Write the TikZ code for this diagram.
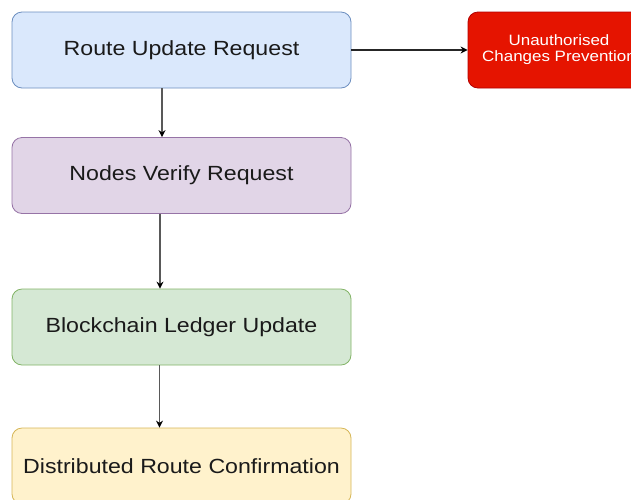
\documentclass[tikz,border=0pt]{standalone}
\usepackage{fontspec}
\setmainfont{Liberation Sans}
\usetikzlibrary{arrows.meta}

\definecolor{blueFill}{HTML}{DAE8FC}\definecolor{blueLine}{HTML}{6C8EBF}
\definecolor{purpleFill}{HTML}{E1D5E7}\definecolor{purpleLine}{HTML}{9673A6}
\definecolor{greenFill}{HTML}{D5E8D4}\definecolor{greenLine}{HTML}{82B366}
\definecolor{yellowFill}{HTML}{FFF2CC}\definecolor{yellowLine}{HTML}{D6B656}
\definecolor{redFill}{HTML}{E51400}\definecolor{redLine}{HTML}{B20000}
\definecolor{inkText}{HTML}{1A1A1A}

% slightly widened lettering
\newcommand{\wide}[1]{\scalebox{1.13}[1]{#1}}

\tikzset{
  stepbox/.style={draw, line width=0.8pt, rounded corners=10pt,
    minimum width=339pt, minimum height=76pt, inner sep=0pt,
    font=\fontsize{20.5}{24}\selectfont, text=inkText},
  alertbox/.style={draw=redLine, fill=redFill, line width=0.8pt, rounded corners=10pt,
    minimum width=182pt, minimum height=76pt, inner sep=0pt, align=center,
    font=\fontsize{15}{17}\selectfont, text=white},
  flow/.style={draw=black!65, line width=1.5pt,
    -{Stealth[length=7pt,width=7pt,color=black]}},
}

\begin{document}
\begin{tikzpicture}[x=1pt,y=1pt]
  \useasboundingbox (0,0) rectangle (631,-499);
  \clip (0,0) rectangle (631,-499);

  \node[stepbox, draw=blueLine, fill=blueFill]     (req)    at (181.5,-50)  {\wide{Route Update Request}};
  \node[stepbox, draw=purpleLine, fill=purpleFill] (verify) at (181.5,-175.5) {\wide{Nodes Verify Request}};
  \node[stepbox, draw=greenLine, fill=greenFill]   (ledger) at (181.5,-327) {\wide{Blockchain Ledger Update}};
  \node[stepbox, draw=yellowLine, fill=yellowFill] (confirm) at (181.5,-466) {\wide{Distributed Route Confirmation}};
  \node[alertbox] (alert) at (559,-50) {\wide{Unauthorised}\\[-1pt]\wide{Changes Prevention}};

  \coordinate (colA) at (162,0);
  \coordinate (colB) at (160,0);
  \coordinate (colC) at (159.5,0);

  \draw[flow] (req.south -| colA) -- (verify.north -| colA);
  \draw[flow] (verify.south -| colB) -- (ledger.north -| colB);
  \draw[flow] (ledger.south -| colC) -- (confirm.north -| colC);
  \draw[flow, draw=black!85, line width=1.2pt] (req.east) -- (alert.west);
\end{tikzpicture}
\end{document}
